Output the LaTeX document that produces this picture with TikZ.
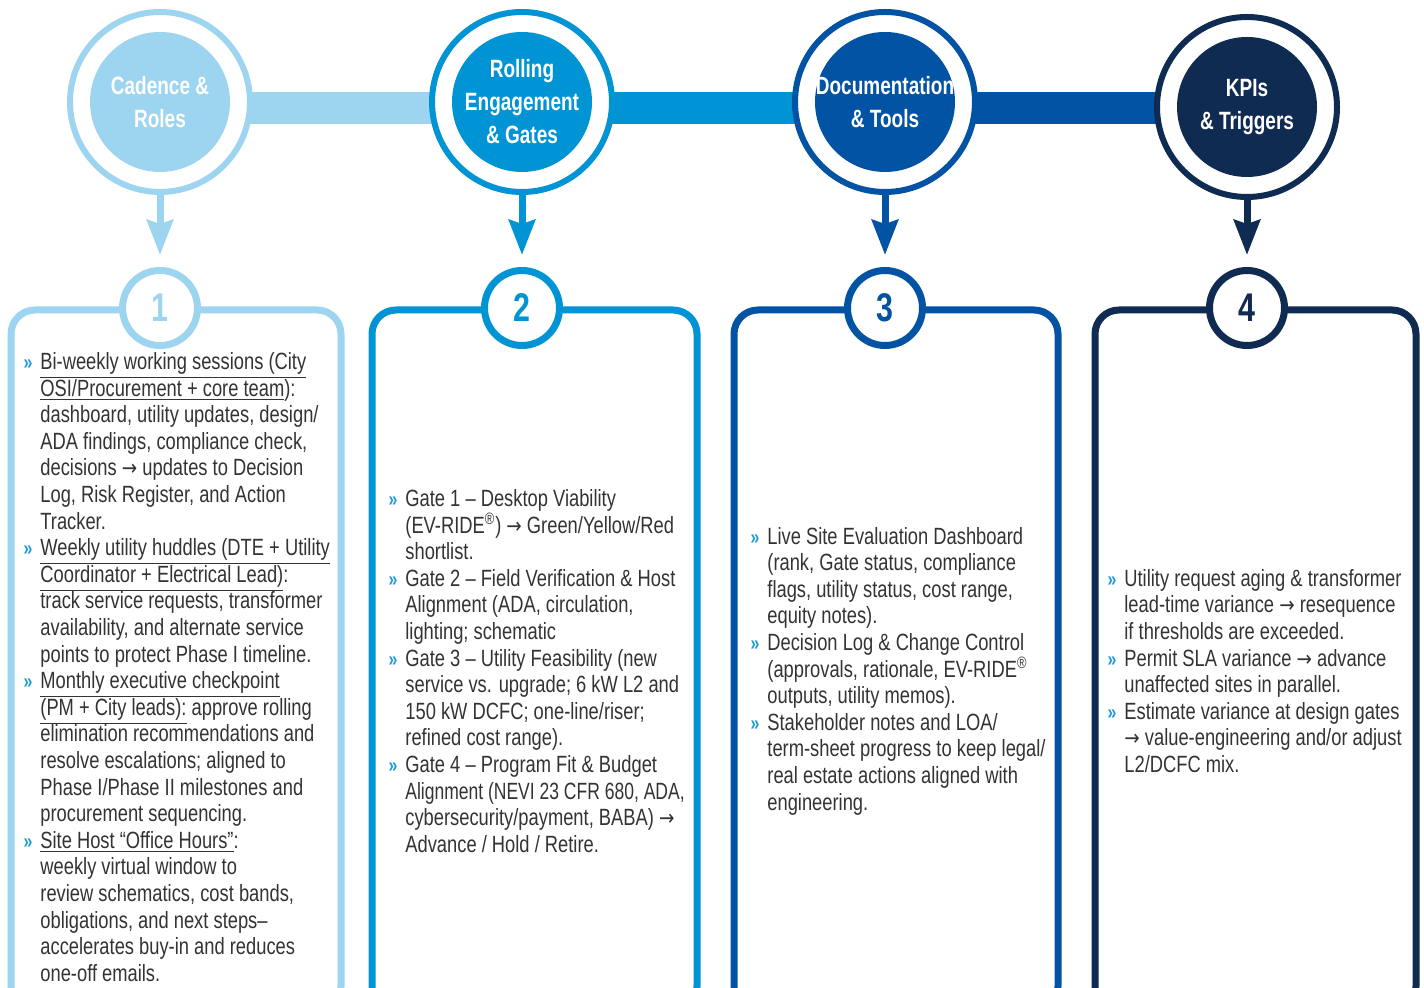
\documentclass[tikz,border=0pt]{standalone}
\usepackage{fontspec}
\setmainfont{Liberation Sans}[FakeStretch=0.78,BoldFeatures={FakeStretch=0.76}]
\newfontfamily\arrowfont{DejaVu Sans}[FakeStretch=0.85,Scale=0.92]
\newfontfamily\tightfont{Liberation Sans}[FakeStretch=0.745]
\usetikzlibrary{arrows.meta}
\pgfdeclarelayer{bg}
\pgfsetlayers{bg,main}

\definecolor{cadence}{HTML}{9DD5F0}
\definecolor{rolling}{HTML}{0094D5}
\definecolor{docs}{HTML}{0353A4}
\definecolor{kpis}{HTML}{0F2B52}
\definecolor{ink}{HTML}{333333}
\definecolor{chev}{HTML}{1E9BD7}

\newcommand{\itm}{\llap{\textcolor{chev}{\bfseries\fontsize{10.5}{10}\selectfont »}\hspace{4pt}}}
\newcommand{\und}[1]{\underline{#1}}
\newcommand{\arr}{{\arrowfont →}}

\tikzset{
  ring/.style={circle, draw=#1, fill=white, line width=3pt, minimum size=90pt, inner sep=0pt,
    path picture={\fill[#1] (path picture bounding box.center) circle (35pt);},
    text=white, align=center, font=\bfseries\fontsize{12.5}{16.5}\selectfont},
  num/.style={circle, draw=#1, fill=white, line width=3.5pt, minimum size=37.5pt, inner sep=0pt,
    text=#1, font=\bfseries\fontsize{20}{20}\selectfont},
  bar/.style={draw=#1, line width=16pt},
  drop/.style={draw=#1, line width=3.5pt, -{Stealth[length=17.5pt,width=13pt,inset=2pt]}, shorten >=6pt},
  card/.style={draw=#1, line width=3.5pt, rounded corners=12pt},
  body/.style={anchor=west, align=left, inner sep=0pt, text=ink, font=\fontsize{11.75}{13.3}\selectfont},
}

\begin{document}
\begin{tikzpicture}[x=0.5pt,y=-0.5pt]
  \useasboundingbox (0,0) rectangle (1424,988);
  \clip (0,0) rectangle (1424,988);
  \coordinate (lvl) at (0,108);

  \node (o1) [ring=cadence] at (160,102) {Cadence \&\\Roles};
  \node (o2) [ring=rolling] at (522,102) {Rolling\\Engagement\\\& Gates};
  \node (o3) [ring=docs] at (885,102) {Documentation\\\& Tools};
  \node (o4) [ring=kpis] at (1247,107) {KPIs\\\& Triggers};

  \draw[card=cadence] (11,310) rectangle (341,1010);
  \draw[card=rolling] (372,310) rectangle (697,1010);
  \draw[card=docs] (734,310) rectangle (1058,1010);
  \draw[card=kpis] (1095,310) rectangle (1416,1010);

  \node (n1) [num=cadence] at (160,308) {1};
  \node (n2) [num=rolling] at (522,308) {2};
  \node (n3) [num=docs] at (885,308) {3};
  \node (n4) [num=kpis] at (1247,308) {4};

  \begin{pgfonlayer}{bg}
    \draw[bar=cadence] (o1 |- lvl) -- (o2 |- lvl);
    \draw[bar=rolling] (o2 |- lvl) -- (o3 |- lvl);
    \draw[bar=docs] (o3 |- lvl) -- (o4 |- lvl);
    \draw[drop=cadence] (o1) -- (n1);
    \draw[drop=rolling] (o2) -- (n2);
    \draw[drop=docs] (o3) -- (n3);
    \draw[drop=kpis] (o4) -- (n4);
  \end{pgfonlayer}

  \node (x1) [body] at (40,667) {\itm\und{Bi-weekly working sessions (City}\\
    \und{OSI/Procurement + core team}):\\
    dashboard, utility updates, design/\\
    ADA findings, compliance check,\\
    decisions \arr{} updates to Decision\\
    Log, Risk Register, and Action\\
    Tracker.\\
    \itm\und{Weekly utility huddles (DTE + Utility}\\
    \und{Coordinator + Electrical Lead)}:\\
    track service requests, transformer\\
    availability, and alternate service\\
    points to protect Phase I timeline.\\
    \itm\und{Monthly executive checkpoint}\\
    \und{(PM + City leads):} approve rolling\\
    elimination recommendations and\\
    resolve escalations; aligned to\\
    Phase I/Phase II milestones and\\
    procurement sequencing.\\
    \itm\und{Site Host “Office Hours”}:\\
    weekly virtual window to\\
    review schematics, cost bands,\\
    obligations, and next steps–\\
    accelerates buy-in and reduces\\
    one-off emails.};

  \node (x2) [body] at (405,671) {\itm Gate 1 – Desktop Viability\\
    (EV-RIDE\textsuperscript{®}) \arr{} Green/Yellow/Red\\
    shortlist.\\
    \itm Gate 2 – Field Verification \& Host\\
    Alignment (ADA, circulation,\\
    lighting; schematic\\
    \itm Gate 3 – Utility Feasibility (new\\
    service vs. upgrade; 6 kW L2 and\\
    150 kW DCFC; one-line/riser;\\
    refined cost range).\\
    \itm Gate 4 – Program Fit \& Budget\\
    {\tightfont Alignment (NEVI 23 CFR 680, ADA,}\\
    cybersecurity/payment, BABA) \arr\\
    Advance / Hold / Retire.};

  \node (x3) [body] at (767,671) {\itm Live Site Evaluation Dashboard\\
    (rank, Gate status, compliance\\
    flags, utility status, cost range,\\
    equity notes).\\
    \itm Decision Log \& Change Control\\
    (approvals, rationale, EV-RIDE\textsuperscript{®}\\
    outputs, utility memos).\\
    \itm Stakeholder notes and LOA/\\
    term-sheet progress to keep legal/\\
    real estate actions aligned with\\
    engineering.};

  \node (x4) [body] at (1124,671) {\itm Utility request aging \& transformer\\
    lead-time variance \arr{} resequence\\
    if thresholds are exceeded.\\
    \itm Permit SLA variance \arr{} advance\\
    unaffected sites in parallel.\\
    \itm Estimate variance at design gates\\
    \arr{} value-engineering and/or adjust\\
    L2/DCFC mix.};
\end{tikzpicture}
\end{document}
